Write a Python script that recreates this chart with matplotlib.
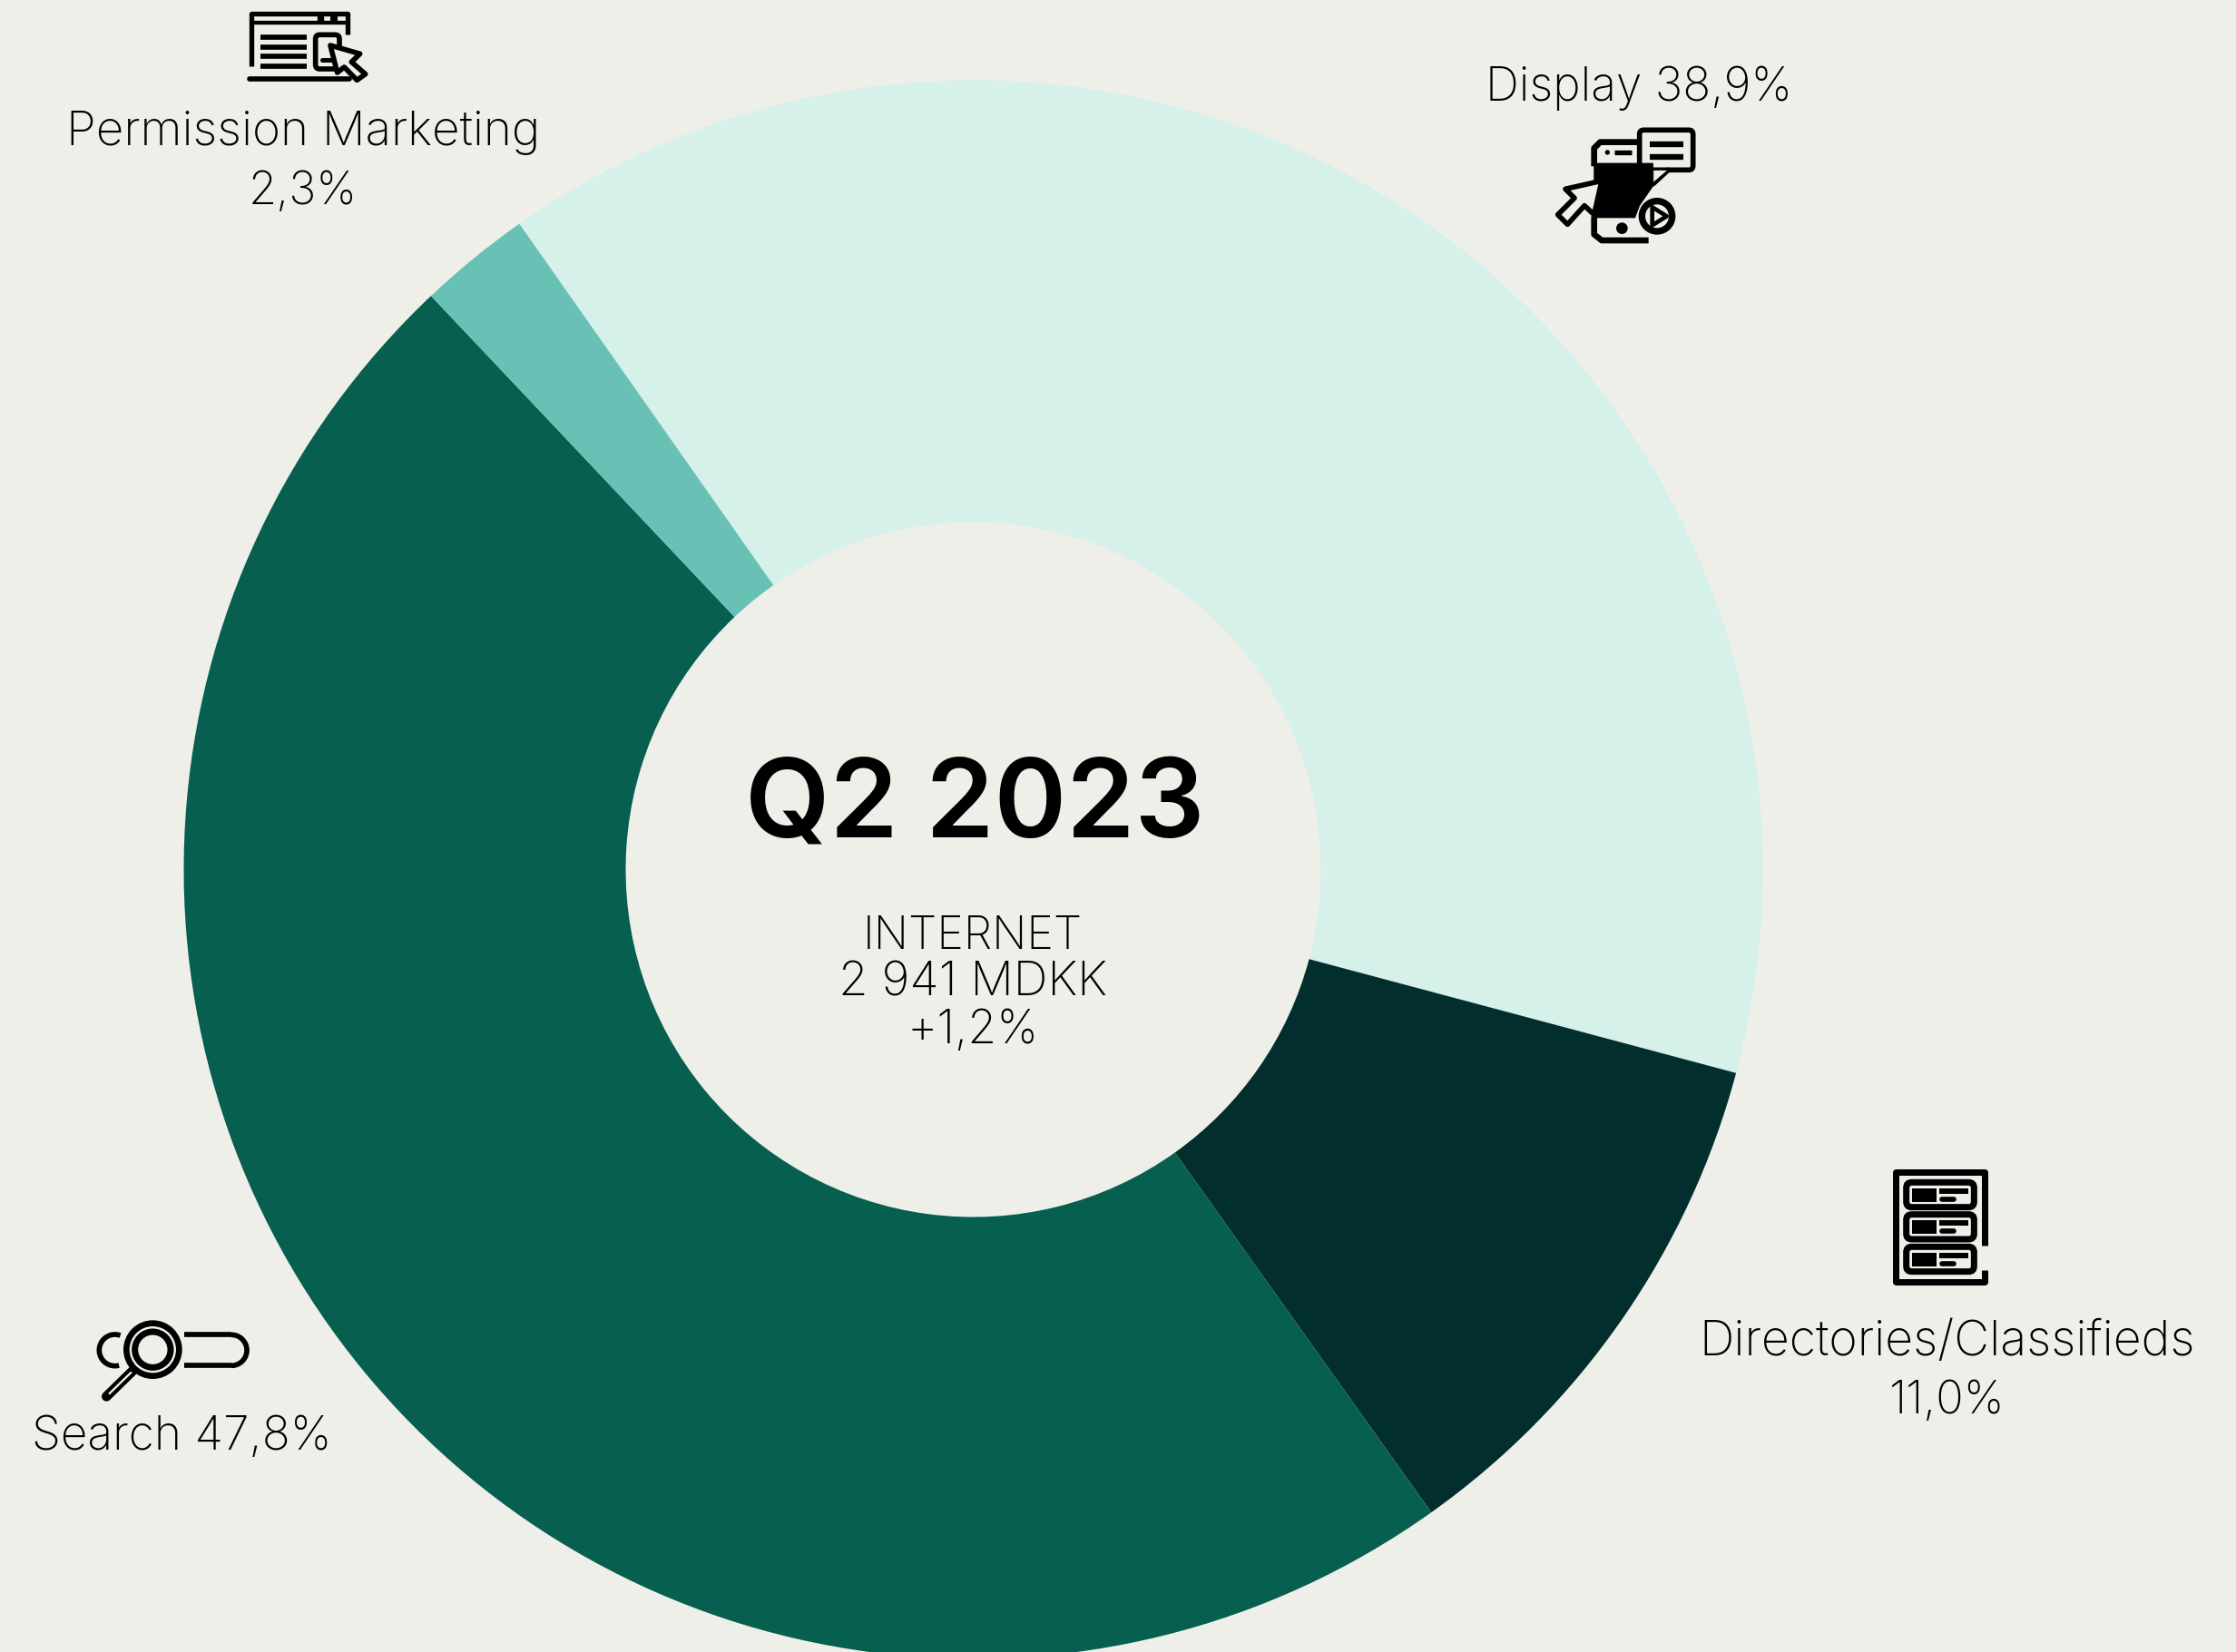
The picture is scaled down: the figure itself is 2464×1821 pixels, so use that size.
import matplotlib
matplotlib.use("Agg")
import matplotlib.pyplot as plt
import numpy as np
from matplotlib.patches import FancyBboxPatch, Polygon, Circle, Rectangle

W, H = 2464, 1821
BG = "#EFEFE9"
INK = "#000000"
categories = ["Display", "Directories/Classifieds", "Search", "Permission Marketing"]
shares = [38.9, 11.0, 47.8, 2.3]
colors = ["#D6F0EA", "#022F2E", "#075F50", "#69C1B5"]

fig = plt.figure(figsize=((W + 0.02) / 200, (H + 0.02) / 200), dpi=200, facecolor=BG)

R = 870
pie_ax = fig.add_axes([(1072.5 - R) / W, 1 - (958.5 + R) / H, 2 * R / W, 2 * R / H])
pie_ax.pie(shares, colors=colors, startangle=125.1, counterclock=False, radius=1.0,
           wedgeprops=dict(width=1 - 383 / R, linewidth=0), frame=False)
pie_ax.set_xlim(-1, 1)
pie_ax.set_ylim(-1, 1)
pie_ax.patch.set_visible(False)

t = fig.add_axes([0, 0, 1, 1])
t.set_xlim(0, W)
t.set_ylim(H, 0)
t.axis("off")
t.patch.set_visible(False)

F = "Inter"
def txt(x, y, s, size, **kw):
    kw.setdefault("fontweight", "light")
    t.text(x, y, s, ha="center", va="center", fontsize=size, family=F, color=INK, **kw)

txt(1074, 891, "Q2 2023", 43.5, fontweight="semibold")
txt(1072, 1032, "INTERNET", 18)
txt(1072, 1084, "2 941 MDKK", 19)
txt(1072, 1136, "+1,2%", 18.6)
txt(334, 146, "Permission Marketing", 19.1)
txt(334, 211, "2,3%", 18.2)
txt(1806, 97, "Display 38,9%", 18.5)
txt(2146, 1480, "Directories/Classifieds", 19.3)
txt(2146, 1544, "11,0%", 18.2)
txt(200, 1584, "Search 47,8%", 18.5)


class Icon:
    """Pictograms traced in crop units: one unit is a third of a pixel."""
    def __init__(self, ox, oy):
        self.ox, self.oy = ox, oy
    def xy(self, pts):
        a = np.asarray(pts, float)
        return np.c_[self.ox + a[:, 0] / 3, self.oy + a[:, 1] / 3]
    def line(self, pts, w, color=INK, cap="round"):
        a = self.xy(pts)
        t.plot(a[:, 0], a[:, 1], color=color, lw=w * 0.12, solid_capstyle=cap,
               solid_joinstyle="round", zorder=5)
    def poly(self, pts, w=14, fill=BG):
        t.add_patch(Polygon(self.xy(pts), closed=True, fc=fill, ec=INK, lw=w * 0.12,
                            joinstyle="round", zorder=6))
    def box(self, x0, y0, x1, y1, w, r=14, fill="none"):
        t.add_patch(FancyBboxPatch((self.ox + x0 / 3, self.oy + y0 / 3), (x1 - x0) / 3, (y1 - y0) / 3,
                                   boxstyle=f"round,pad=0,rounding_size={r / 3}", fc=fill, ec=INK,
                                   lw=w * 0.12, zorder=5))
    def rect(self, x0, y0, x1, y1):
        t.add_patch(Rectangle((self.ox + x0 / 3, self.oy + y0 / 3), (x1 - x0) / 3, (y1 - y0) / 3,
                              fc=INK, ec="none", zorder=6))
    def circ(self, x, y, r, w=0, fill=INK, z=6):
        t.add_patch(Circle((self.ox + x / 3, self.oy + y / 3), r / 3, fc=fill,
                           ec=INK, lw=w * 0.12, zorder=z))
    def arc(self, x, y, r, a0, a1, w):
        a = np.radians(np.linspace(a0, a1, 40))
        self.line(np.c_[x + r * np.cos(a), y - r * np.sin(a)], w, cap="butt")


# Permission Marketing: browser window with cursor
i = Icon(250, 0)
i.line([(80, 218), (80, 45), (400, 45), (400, 115)], 16, cap="butt")
i.line([(75, 262), (405, 262)], 17)
i.line([(80, 76), (400, 76)], 13, cap="butt")
i.line([(310, 45), (310, 76)], 22, cap="butt")
i.line([(355, 45), (355, 76)], 24, cap="butt")
for y in (123, 155, 187, 218):
    i.line([(112, y), (265, y)], 17, cap="butt")
i.box(293, 115, 372, 228, 17, r=14)
i.line([(314, 197), (350, 197)], 15)
i.poly([(342, 150), (440, 178), (412, 205), (458, 245), (430, 265), (388, 222), (365, 240)], 17)

# Display: phone, speech bubble, play button and cursor
i = Icon(1700, 130)
i.line([(170, 160), (170, 100), (190, 80), (330, 80)], 20, cap="butt")
i.line([(170, 325), (170, 385), (195, 405), (350, 405)], 20, cap="butt")
i.poly([(170, 150), (365, 150), (365, 225), (320, 290), (305, 330), (170, 330)], 2, fill=INK)
i.poly([(195, 208), (75, 235), (105, 265), (50, 320), (82, 352), (138, 290), (170, 320)], 17)
i.box(320, 40, 497, 172, 17, r=14, fill=BG)
i.poly([(415, 172), (365, 215), (365, 172)], 3, fill=BG)
i.line([(415, 172), (365, 218)], 17)
i.line([(353, 88), (465, 88)], 19, cap="butt")
i.line([(353, 128), (465, 128)], 19, cap="butt")
i.circ(214, 114, 8, z=7)
i.line([(238, 114), (295, 114)], 16, cap="butt")
i.circ(262, 365, 19)
i.circ(378, 325, 50, w=22, fill=BG, z=7)
t.add_patch(Polygon(i.xy([(362, 295), (410, 325), (362, 355)]), closed=True, fc=BG, ec=INK,
                    lw=14 * 0.12, joinstyle="round", zorder=8))

# Directories/Classifieds: cabinet with three drawers
i = Icon(2070, 1280)
i.line([(350, 280), (350, 37), (58, 37), (58, 398), (350, 398), (350, 360)], 21, cap="butt")
for dy in (0, 106, 213):
    i.box(92, 70 + dy, 316, 152 + dy, 21, r=18)
    i.rect(112, 90 + dy, 192, 135 + dy)
    i.rect(200, 90 + dy, 298, 108 + dy)
    i.line([(210, 125 + dy), (250, 125 + dy)], 17)

# Search: magnifier over a search field
i = Icon(90, 1440)
i.arc(110, 145, 52, 70, 285, 17)
i.line([(340, 93), (495, 93)], 17, cap="butt")
i.line([(340, 195), (495, 195)], 17, cap="butt")
i.arc(495, 145, 51, -90, 90, 17)
i.circ(235, 143, 87, w=20, fill=BG)
i.circ(235, 143, 59, w=21, fill=BG, z=7)
i.line([(172, 210), (82, 298)], 32)
i.line([(165, 217), (90, 290)], 7, color=BG, cap="butt")

fig.savefig("out.png", dpi=200, facecolor=BG)
